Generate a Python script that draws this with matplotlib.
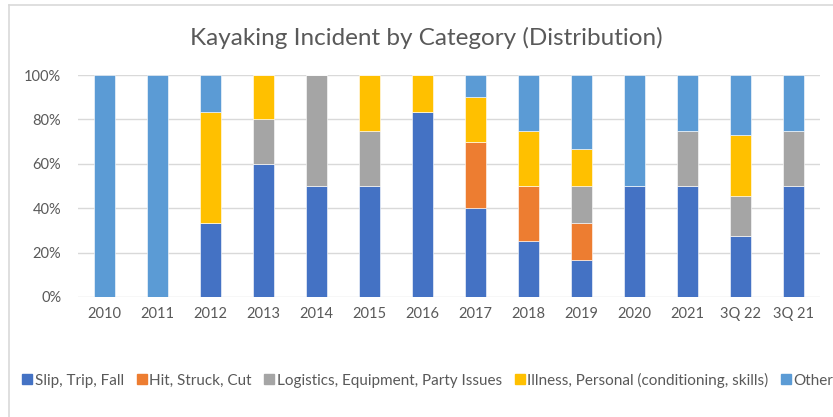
import matplotlib
matplotlib.use('Agg')
import matplotlib.pyplot as plt
from matplotlib.lines import Line2D
from matplotlib.ticker import PercentFormatter
import numpy as np

plt.rcParams['font.family'] = ['Lato', 'DejaVu Sans']

# data (share of incidents per year, %)
years = ['2010', '2011', '2012', '2013', '2014', '2015', '2016',
         '2017', '2018', '2019', '2020', '2021', '3Q 22', '3Q 21']
slip = [0, 0, 33.3, 60, 50, 50, 83.3, 40, 25, 16.7, 50, 50, 27.3, 50]
hit = [0, 0, 0, 0, 0, 0, 0, 30, 25, 16.7, 0, 0, 0, 0]
logistics = [0, 0, 0, 20, 50, 25, 0, 0, 0, 16.7, 0, 25, 18.2, 25]
illness = [0, 0, 50, 20, 0, 25, 16.7, 20, 25, 16.7, 0, 0, 27.3, 0]
other = [100, 100, 16.7, 0, 0, 0, 0, 10, 25, 33.3, 50, 25, 27.3, 25]

series = [
    ('Slip, Trip, Fall', slip, '#4472C4'),
    ('Hit, Struck, Cut', hit, '#ED7D31'),
    ('Logistics, Equipment, Party Issues', logistics, '#A5A5A5'),
    ('Illness, Personal (conditioning, skills)', illness, '#FFC000'),
    ('Other', other, '#5B9BD5'),
]

fig = plt.figure(figsize=(8.33, 4.17), dpi=100)
ax = fig.add_axes([0.0936, 0.288, 0.8908, 0.532])

x = np.arange(len(years))
bottom = np.zeros(len(years))
for name, vals, col in series:
    vals = np.array(vals, dtype=float)
    ax.bar(x, vals, 0.40, bottom=bottom, color=col, label=name,
           edgecolor='white', linewidth=0.4, zorder=3)
    bottom += vals

ax.set_xlim(-0.5, len(years) - 0.5)
ax.set_ylim(0, 100)
ax.set_yticks(range(0, 101, 20))
ax.yaxis.set_major_formatter(PercentFormatter(decimals=0))
ax.set_xticks(x)
ax.set_xticklabels(years)
ax.tick_params(length=0, labelsize=10.5, colors='#595959', pad=7)
ax.tick_params(axis='y', pad=12)
ax.grid(axis='y', color='#D9D9D9', linewidth=1, zorder=0)
for s in ax.spines.values():
    s.set_visible(False)

fig.text(0.512, 0.91, 'Kayaking Incident by Category (Distribution)',
         ha='center', va='center', fontsize=17.5, color='#595959')

handles = [Line2D([], [], marker='s', linestyle='', markersize=7,
                  color=col) for _, _, col in series]
fig.legend(handles, [n for n, _, _ in series], loc='center',
           bbox_to_anchor=(0.513, 0.088), ncol=5, frameon=False,
           fontsize=11, handletextpad=0.1, columnspacing=0.75,
           handlelength=0.8, labelcolor='#595959')

# chart area border (partly cropped in the original)
fig.add_artist(Line2D([9 / 833, 1], [1 - 4.5 / 417, 1 - 4.5 / 417],
                      color='#D9D9D9', linewidth=1.2))
fig.add_artist(Line2D([9 / 833, 9 / 833], [0, 1 - 4.5 / 417],
                      color='#D9D9D9', linewidth=1.2))

fig.savefig('out.png', dpi=100)
